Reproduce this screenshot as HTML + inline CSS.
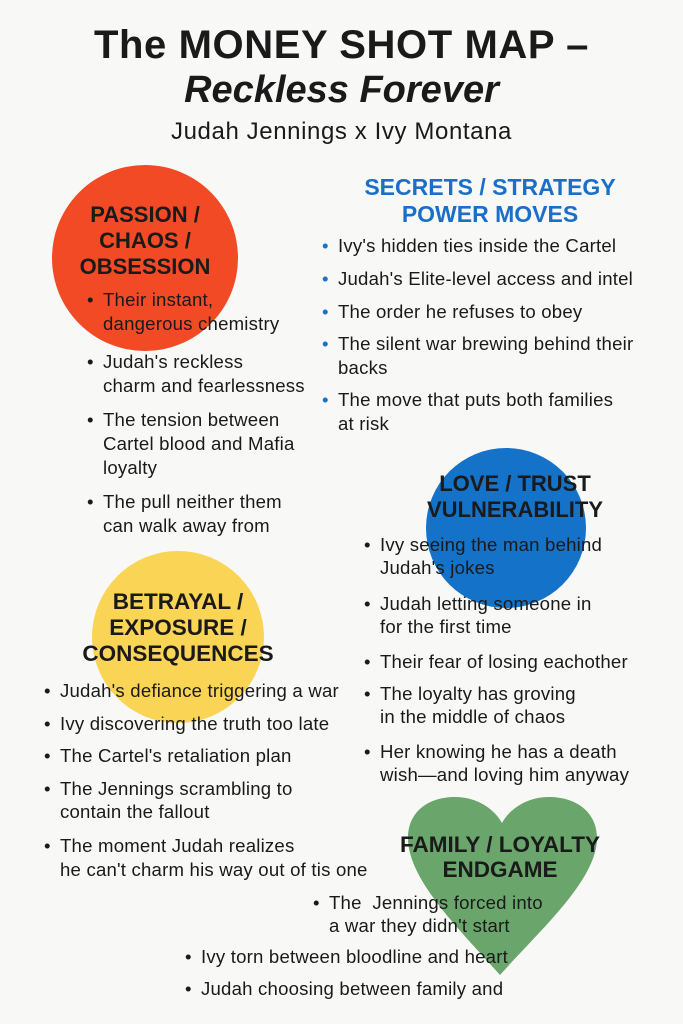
<!DOCTYPE html>
<html><head><meta charset="utf-8"><style>
html,body{margin:0;padding:0}
body{width:683px;height:1024px;background:#f8f8f7;position:relative;overflow:hidden;font-family:"Liberation Sans",sans-serif;color:#1a1a1a}
.t{position:absolute;white-space:nowrap;font-size:18.6px;line-height:24px;letter-spacing:0.2px}
.h{position:absolute;text-align:center;font-weight:bold;white-space:nowrap}
.b::before{content:"•";position:absolute;left:-16px}
.bb::before{content:"•";position:absolute;left:-16px;color:#1a72c8}
</style></head><body>
<div class="h" style="left:0;width:683px;top:22px;font-size:40px;line-height:46px;letter-spacing:0.6px">The MONEY SHOT MAP –</div>
<div class="h" style="left:0;width:683px;top:67px;font-size:38px;line-height:46px;font-style:italic">Reckless Forever</div>
<div class="h" style="left:0;width:683px;top:118px;font-size:24px;line-height:28px;font-weight:normal;letter-spacing:0.6px">Judah Jennings x Ivy Montana</div>

<svg width="683" height="1024" style="position:absolute;left:0;top:0">
<circle cx="145" cy="258" r="93" fill="#f24a24"/>
<circle cx="506" cy="528" r="80" fill="#1472c9"/>
<circle cx="178" cy="637" r="86" fill="#f9d455"/>
<path d="M500,975 C460,930 408,880 408,838 C408,812 428,797 455,797 C478,797 495,810 502,823 C509,810 526,797 549,797 C576,797 597,812 597,838 C597,880 540,930 500,975 Z" fill="#6aa56c"/>
</svg>

<div class="h" style="left:45px;width:200px;top:202px;font-size:22px;line-height:26px">PASSION /<br>CHAOS /<br>OBSESSION</div>
<div class="t b" style="left:103px;top:288px">Their instant,</div>
<div class="t" style="left:103px;top:312px">dangerous chemistry</div>
<div class="t b" style="left:103px;top:350px">Judah's reckless</div>
<div class="t" style="left:103px;top:374px">charm and fearlessness</div>
<div class="t b" style="left:103px;top:408px">The tension between</div>
<div class="t" style="left:103px;top:432px">Cartel blood and Mafia</div>
<div class="t" style="left:103px;top:456px">loyalty</div>
<div class="t b" style="left:103px;top:490px">The pull neither them</div>
<div class="t" style="left:103px;top:514px">can walk away from</div>

<div class="h" style="left:322px;width:336px;top:174px;font-size:23px;line-height:27px;color:#1a6fc8">SECRETS / STRATEGY<br>POWER MOVES</div>
<div class="t bb" style="left:338px;top:234px">Ivy's hidden ties inside the Cartel</div>
<div class="t bb" style="left:338px;top:267px">Judah's Elite-level access and intel</div>
<div class="t bb" style="left:338px;top:300px">The order he refuses to obey</div>
<div class="t bb" style="left:338px;top:332px">The silent war brewing behind their</div>
<div class="t" style="left:338px;top:356px">backs</div>
<div class="t bb" style="left:338px;top:388px">The move that puts both families</div>
<div class="t" style="left:338px;top:412px">at risk</div>

<div class="h" style="left:420px;width:190px;top:471px;font-size:22px;line-height:26px">LOVE / TRUST<br>VULNERABILITY</div>
<div class="t b" style="left:380px;top:533px">Ivy seeing the man behind</div>
<div class="t" style="left:380px;top:556px">Judah's jokes</div>
<div class="t b" style="left:380px;top:592px">Judah letting someone in</div>
<div class="t" style="left:380px;top:615px">for the first time</div>
<div class="t b" style="left:380px;top:650px">Their fear of losing eachother</div>
<div class="t b" style="left:380px;top:682px">The loyalty has groving</div>
<div class="t" style="left:380px;top:705px">in the middle of chaos</div>
<div class="t b" style="left:380px;top:740px">Her knowing he has a death</div>
<div class="t" style="left:380px;top:763px">wish—and loving him anyway</div>

<div class="h" style="left:58px;width:240px;top:589px;font-size:22.5px;line-height:26px">BETRAYAL /<br>EXPOSURE /<br>CONSEQUENCES</div>
<div class="t b" style="left:60px;top:679px">Judah's defiance triggering a war</div>
<div class="t b" style="left:60px;top:712px">Ivy discovering the truth too late</div>
<div class="t b" style="left:60px;top:744px">The Cartel's retaliation plan</div>
<div class="t b" style="left:60px;top:777px">The Jennings scrambling to</div>
<div class="t" style="left:60px;top:800px">contain the fallout</div>
<div class="t b" style="left:60px;top:834px">The moment Judah realizes</div>
<div class="t" style="left:60px;top:858px">he can't charm his way out of tis one</div>

<div class="h" style="left:385px;width:230px;top:832px;font-size:22.5px;line-height:25px">FAMILY / LOYALTY<br>ENDGAME</div>
<div class="t b" style="left:329px;top:891px">The &nbsp;Jennings forced into</div>
<div class="t" style="left:329px;top:914px">a war they didn't start</div>
<div class="t b" style="left:201px;top:945px">Ivy torn between bloodline and heart</div>
<div class="t b" style="left:201px;top:977px">Judah choosing between family and</div>
</body></html>
